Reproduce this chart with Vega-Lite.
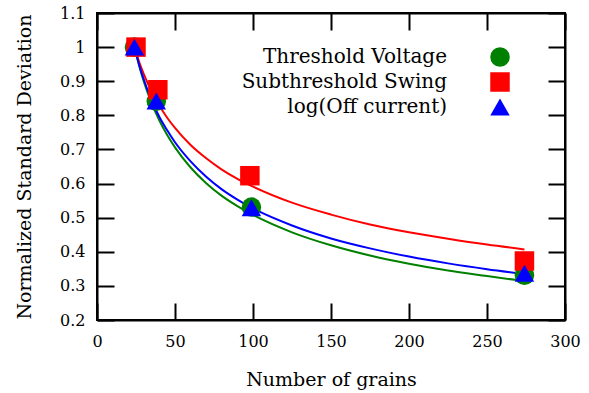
{
  "$schema": "https://vega.github.io/schema/vega-lite/v6.json",
  "width": 468,
  "height": 307,
  "autosize": "none",
  "padding": {"left": 97, "top": 13, "right": 24, "bottom": 73},
  "background": "white",
  "config": {
    "view": {"stroke": "black", "strokeWidth": 2},
    "font": "DejaVu Serif",
    "axis": {
      "grid": false,
      "domainColor": "black",
      "domainWidth": 2,
      "tickColor": "black",
      "tickWidth": 2,
      "tickSize": -17,
      "labelFont": "DejaVu Serif",
      "labelFontSize": 16,
      "labelColor": "black",
      "titleFont": "DejaVu Serif",
      "titleFontSize": 19,
      "titleFontWeight": "normal",
      "titleColor": "black"
    },
    "legend": {
      "padding": 0,
      "labelAlign": "right",
      "labelOffset": -63,
      "labelFont": "DejaVu Serif",
      "labelFontSize": 20,
      "labelColor": "black",
      "labelLimit": 400,
      "rowPadding": 5,
      "symbolSize": 380,
      "symbolOpacity": 1,
      "symbolStrokeWidth": 0
    }
  },
  "datasets": {
    "points": [
      {"grains": 24, "value": 1.0, "series": "Threshold Voltage"},
      {"grains": 38, "value": 0.841, "series": "Threshold Voltage"},
      {"grains": 99, "value": 0.531, "series": "Threshold Voltage"},
      {"grains": 274, "value": 0.331, "series": "Threshold Voltage"},
      {"grains": 25, "value": 1.0, "series": "Subthreshold Swing"},
      {"grains": 39, "value": 0.875, "series": "Subthreshold Swing"},
      {"grains": 98, "value": 0.623, "series": "Subthreshold Swing"},
      {"grains": 274, "value": 0.373, "series": "Subthreshold Swing"},
      {"grains": 24, "value": 1.0, "series": "log(Off current)"},
      {"grains": 38, "value": 0.842, "series": "log(Off current)"},
      {"grains": 99, "value": 0.529, "series": "log(Off current)"},
      {"grains": 274, "value": 0.337, "series": "log(Off current)"}
    ],
    "curves": [
      {"grains": 24, "value": 1.0, "fit": "TV fit"},
      {"grains": 27, "value": 0.946, "fit": "TV fit"},
      {"grains": 30, "value": 0.899, "fit": "TV fit"},
      {"grains": 35, "value": 0.836, "fit": "TV fit"},
      {"grains": 40, "value": 0.785, "fit": "TV fit"},
      {"grains": 45, "value": 0.742, "fit": "TV fit"},
      {"grains": 50, "value": 0.706, "fit": "TV fit"},
      {"grains": 60, "value": 0.647, "fit": "TV fit"},
      {"grains": 70, "value": 0.601, "fit": "TV fit"},
      {"grains": 80, "value": 0.564, "fit": "TV fit"},
      {"grains": 90, "value": 0.534, "fit": "TV fit"},
      {"grains": 100, "value": 0.508, "fit": "TV fit"},
      {"grains": 125, "value": 0.457, "fit": "TV fit"},
      {"grains": 150, "value": 0.419, "fit": "TV fit"},
      {"grains": 175, "value": 0.389, "fit": "TV fit"},
      {"grains": 200, "value": 0.365, "fit": "TV fit"},
      {"grains": 225, "value": 0.345, "fit": "TV fit"},
      {"grains": 250, "value": 0.329, "fit": "TV fit"},
      {"grains": 274, "value": 0.314, "fit": "TV fit"},
      {"grains": 24, "value": 1.0, "fit": "SS fit"},
      {"grains": 27, "value": 0.957, "fit": "SS fit"},
      {"grains": 30, "value": 0.921, "fit": "SS fit"},
      {"grains": 35, "value": 0.870, "fit": "SS fit"},
      {"grains": 40, "value": 0.828, "fit": "SS fit"},
      {"grains": 45, "value": 0.793, "fit": "SS fit"},
      {"grains": 50, "value": 0.763, "fit": "SS fit"},
      {"grains": 60, "value": 0.713, "fit": "SS fit"},
      {"grains": 70, "value": 0.674, "fit": "SS fit"},
      {"grains": 80, "value": 0.641, "fit": "SS fit"},
      {"grains": 90, "value": 0.614, "fit": "SS fit"},
      {"grains": 100, "value": 0.591, "fit": "SS fit"},
      {"grains": 125, "value": 0.544, "fit": "SS fit"},
      {"grains": 150, "value": 0.509, "fit": "SS fit"},
      {"grains": 175, "value": 0.480, "fit": "SS fit"},
      {"grains": 200, "value": 0.457, "fit": "SS fit"},
      {"grains": 225, "value": 0.438, "fit": "SS fit"},
      {"grains": 250, "value": 0.421, "fit": "SS fit"},
      {"grains": 274, "value": 0.407, "fit": "SS fit"},
      {"grains": 24, "value": 1.0, "fit": "LO fit"},
      {"grains": 27, "value": 0.948, "fit": "LO fit"},
      {"grains": 30, "value": 0.905, "fit": "LO fit"},
      {"grains": 35, "value": 0.844, "fit": "LO fit"},
      {"grains": 40, "value": 0.795, "fit": "LO fit"},
      {"grains": 45, "value": 0.756, "fit": "LO fit"},
      {"grains": 50, "value": 0.721, "fit": "LO fit"},
      {"grains": 60, "value": 0.665, "fit": "LO fit"},
      {"grains": 70, "value": 0.620, "fit": "LO fit"},
      {"grains": 80, "value": 0.583, "fit": "LO fit"},
      {"grains": 90, "value": 0.553, "fit": "LO fit"},
      {"grains": 100, "value": 0.527, "fit": "LO fit"},
      {"grains": 125, "value": 0.477, "fit": "LO fit"},
      {"grains": 150, "value": 0.439, "fit": "LO fit"},
      {"grains": 175, "value": 0.410, "fit": "LO fit"},
      {"grains": 200, "value": 0.386, "fit": "LO fit"},
      {"grains": 225, "value": 0.366, "fit": "LO fit"},
      {"grains": 250, "value": 0.349, "fit": "LO fit"},
      {"grains": 274, "value": 0.335, "fit": "LO fit"}
    ]
  },
  "layer": [
    {
      "data": {"name": "curves"},
      "mark": {"type": "line", "strokeWidth": 2, "interpolate": "monotone"},
      "encoding": {
        "x": {
          "field": "grains", "type": "quantitative",
          "scale": {"domain": [0, 300], "nice": false, "zero": false},
          "axis": {"orient": "bottom", "title": "Number of grains", "values": [0, 50, 100, 150, 200, 250, 300], "labelPadding": 30, "titlePadding": 21, "labelFlush": false, "labelOverlap": false}
        },
        "y": {
          "field": "value", "type": "quantitative",
          "scale": {"domain": [0.2, 1.1], "nice": false, "zero": false},
          "axis": {"orient": "left", "title": "Normalized Standard Deviation", "values": [0.2, 0.3, 0.4, 0.5, 0.6, 0.7, 0.8, 0.9, 1, 1.1], "format": "~g", "labelPadding": 29, "titlePadding": 25, "labelFlush": false, "labelOverlap": false}
        },
        "stroke": {
          "field": "fit", "type": "nominal",
          "scale": {"domain": ["TV fit", "SS fit", "LO fit"], "range": ["#008000", "#ff0000", "#0000ff"]},
          "legend": null
        },
        "order": {"field": "grains", "type": "quantitative"}
      }
    },
    {
      "data": {"name": "points"},
      "mark": {"type": "point", "filled": true, "opacity": 1, "size": 380},
      "encoding": {
        "x": {
          "field": "grains", "type": "quantitative",
          "scale": {"domain": [0, 300], "nice": false, "zero": false},
          "axis": {"orient": "top", "title": null, "labels": false, "values": [0, 50, 100, 150, 200, 250, 300]}
        },
        "y": {
          "field": "value", "type": "quantitative",
          "scale": {"domain": [0.2, 1.1], "nice": false, "zero": false},
          "axis": {"orient": "right", "title": null, "labels": false, "values": [0.2, 0.3, 0.4, 0.5, 0.6, 0.7, 0.8, 0.9, 1, 1.1]}
        },
        "color": {
          "field": "series", "type": "nominal",
          "scale": {"domain": ["Threshold Voltage", "Subthreshold Swing", "log(Off current)"], "range": ["#008000", "#ff0000", "#0000ff"]},
          "legend": {"title": null, "orient": "none", "legendX": 393, "legendY": 34}
        },
        "shape": {
          "field": "series", "type": "nominal",
          "scale": {"domain": ["Threshold Voltage", "Subthreshold Swing", "log(Off current)"], "range": ["circle", "square", "triangle-up"]},
          "legend": {"title": null, "orient": "none", "legendX": 393, "legendY": 34}
        }
      }
    }
  ],
  "resolve": {"axis": {"x": "independent", "y": "independent"}}
}
